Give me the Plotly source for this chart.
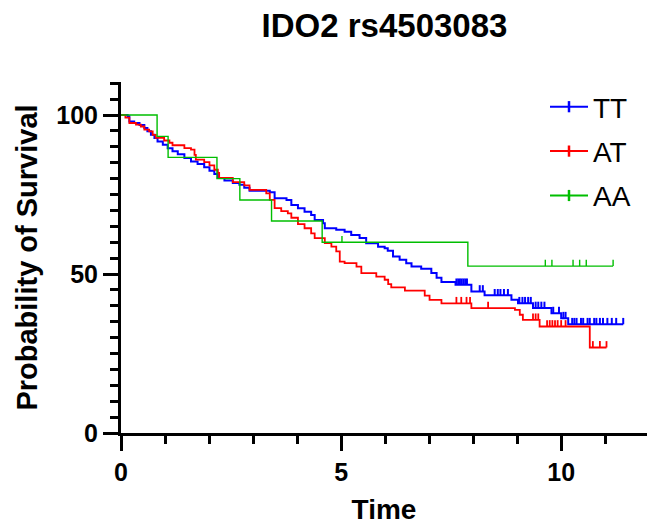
import numpy as np
import plotly.graph_objects as go

# ---------------- data ----------------
# TT genotype: step times and survival (%) after each step
tt_time = [0, 0.15, 0.19, 0.30, 0.42, 0.53, 0.60, 0.68, 0.76, 0.83, 0.95, 1.06, 1.17, 1.29,
           1.44, 1.59, 1.74, 1.89, 2.01, 2.12, 2.20, 2.35, 2.54, 2.69, 2.80, 2.92, 3.38, 3.49,
           3.76, 3.87, 4.02, 4.17, 4.32, 4.40, 4.59, 4.63, 4.89, 5.08, 5.23, 5.42, 5.57, 5.84,
           5.99, 6.06, 6.18, 6.33, 6.48, 6.60, 6.82, 7.05, 7.17, 7.28, 7.60, 7.96, 8.26, 8.87,
           9.02, 9.36, 9.78, 10.00, 10.16]
tt_surv = [100, 99.6, 98.0, 97.5, 96.9, 95.9, 94.9, 93.8, 92.8, 91.7, 90.7, 89.6, 88.6, 87.7,
           86.5, 85.4, 84.6, 83.6, 82.5, 81.5, 80.2, 79.4, 78.6, 78.1, 77.1, 76.2, 75.7, 73.8,
           73.3, 71.7, 70.7, 69.6, 68.6, 67.0, 66.0, 64.4, 63.9, 63.3, 62.3, 61.3, 59.7, 58.6,
           58.1, 57.3, 55.5, 54.5, 53.4, 52.4, 51.7, 50.3, 48.8, 47.5, 46.6, 44.5, 43.3, 41.9,
           40.8, 39.3, 37.7, 36.1, 34.2]
tt_censor = [7.62, 7.66, 7.70, 7.74, 7.78, 7.82, 7.86, 8.15, 8.22, 8.49, 8.56, 8.62, 8.70, 8.79,
             9.05, 9.12, 9.18, 9.25, 9.31, 9.42, 9.48, 9.55, 9.62, 9.82, 9.95, 10.05, 10.10,
             10.25, 10.30, 10.35, 10.45, 10.50, 10.60, 10.65, 10.75, 10.80, 10.88, 10.95, 11.05,
             11.15, 11.25, 11.41]

# AT genotype
at_time = [0, 0.10, 0.19, 0.34, 0.45, 0.53, 0.64, 0.72, 0.79, 0.98, 1.10, 1.17, 1.44, 1.59,
           1.67, 1.70, 1.89, 2.01, 2.12, 2.20, 2.23, 2.54, 2.80, 2.92, 3.30, 3.38, 3.49, 3.64,
           3.79, 3.87, 4.02, 4.17, 4.32, 4.40, 4.63, 4.78, 4.89, 4.97, 5.08, 5.35, 5.46, 5.80,
           5.99, 6.07, 6.14, 6.45, 6.90, 7.01, 7.28, 7.96, 8.95, 9.06, 9.13, 9.51, 10.65]
at_surv = [100, 99.2, 97.5, 97.0, 96.4, 95.4, 94.9, 93.8, 92.8, 92.0, 91.3, 90.5, 89.6, 89.1,
           87.5, 86.0, 85.2, 84.2, 82.8, 81.8, 80.2, 78.9, 77.9, 76.5, 75.4, 73.3, 70.7, 69.8,
           69.1, 67.7, 65.7, 64.4, 62.8, 61.3, 59.7, 58.6, 57.1, 53.9, 53.4, 52.3, 50.3, 49.2,
           48.2, 46.8, 45.8, 44.8, 43.2, 41.9, 40.8, 39.3, 38.7, 37.2, 35.6, 33.5, 26.9]
at_censor = [7.62, 7.73, 7.85, 7.93, 8.34, 9.36, 9.42, 9.48, 9.68, 9.74, 9.80, 9.86, 9.92,
             10.00, 10.10, 10.72, 10.88, 11.03]

# AA genotype
aa_time = [0, 0.82, 1.07, 2.18, 2.70, 3.42, 4.57, 7.88]
aa_surv = [100, 93.3, 86.7, 80.0, 73.3, 66.7, 60.0, 52.5]
aa_censor = [5.02, 9.64, 9.79, 10.27, 10.42, 10.57, 11.18]

groups = ["TT", "AT", "AA"]
colors = ["#0000FF", "#FF0000", "#00BE00"]
widths = [2.0, 1.8, 1.4]

FONT = "Liberation Sans, Arial, sans-serif"
TICK_H = 2.0  # height of censor tick (in % units)


def km_line(times, surv, censors):
    end = max(times[-1], censors[-1])
    return list(times) + [end], list(surv) + [surv[-1]]


def censor_segments(times, surv, censors):
    t = np.asarray(times)
    xs, ys = [], []
    for c in censors:
        i = int(np.searchsorted(t, c, side="right")) - 1
        s = surv[i]
        xs += [c, c, None]
        ys += [s, s + TICK_H, None]
    return xs, ys


fig = go.Figure()
data = [(tt_time, tt_surv, tt_censor), (at_time, at_surv, at_censor), (aa_time, aa_surv, aa_censor)]
for name, col, w, (t, s, c) in zip(groups, colors, widths, data):
    lx, ly = km_line(t, s, c)
    fig.add_trace(go.Scatter(x=lx, y=ly, mode="lines", line=dict(color=col, width=w, shape="hv"),
                             name=name, legendgroup=name, showlegend=False))
    cx, cy = censor_segments(t, s, c)
    fig.add_trace(go.Scatter(x=cx, y=cy, mode="lines", line=dict(color=col, width=w),
                             name=name, legendgroup=name, showlegend=False, hoverinfo="skip"))
    # legend entry
    fig.add_trace(go.Scatter(x=[None], y=[None], mode="lines+markers", name=name, legendgroup=name,
                             line=dict(color=col, width=2),
                             marker=dict(symbol="line-ns-open", size=8,
                                         line=dict(color=col, width=2.5))))

axis_common = dict(
    showline=True, linewidth=3, linecolor="black", ticks="outside", ticklen=15, tickwidth=3,
    tickcolor="black", showgrid=False, zeroline=False,
    tickfont=dict(family=FONT, size=25, color="black", weight="bold"),
)

fig.update_layout(
    width=647, height=525,
    margin=dict(l=121, r=0, t=82, b=92),
    paper_bgcolor="white", plot_bgcolor="white",
    title=dict(text="IDO2 rs4503083", x=384.5 / 647, xanchor="center", xref="container",
               y=1 - 25 / 525, yanchor="middle", yref="container",
               font=dict(family=FONT, size=33, color="black", weight="bold")),
    xaxis=dict(range=[0, 11.95], tick0=0, dtick=5,
               minor=dict(ticks="outside", ticklen=8, tickwidth=2.5, tickcolor="black", dtick=1, tick0=0),
               title=dict(text="Time", font=dict(family=FONT, size=28, color="black", weight="bold"),
                          standoff=20),
               **axis_common),
    yaxis=dict(range=[0, 110.4], tick0=0, dtick=50,
               minor=dict(ticks="outside", ticklen=8, tickwidth=2.5, tickcolor="black", dtick=5, tick0=0),
               title=dict(text="Probability of Survival",
                          font=dict(family=FONT, size=29, color="black", weight="bold"), standoff=11),
               **axis_common),
    legend=dict(x=(545 - 121) / 526, xanchor="left", y=1.0, yanchor="top",
                font=dict(family=FONT, size=28, color="black"), itemwidth=38,
                traceorder="grouped", tracegroupgap=5, bgcolor="rgba(0,0,0,0)"),
    showlegend=True,
)

fig.write_html("out.html")
